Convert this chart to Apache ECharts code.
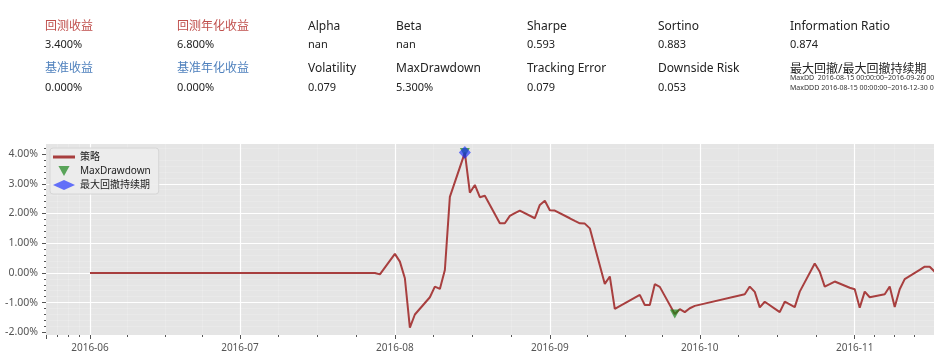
<!DOCTYPE html>
<html>
<head>
<meta charset="utf-8">
<script src="https://cdn.jsdelivr.net/npm/echarts@6/dist/echarts.min.js"></script>
<style>
html,body{margin:0;padding:0;background:#fff;}
#chart{width:934px;height:359px;}
</style>
</head>
<body>
<div id="chart"></div>
<script>
// ---------- data ----------
const dates = ['2016-06-01','2016-07-28','2016-07-29','2016-08-01','2016-08-02','2016-08-03','2016-08-04','2016-08-05',
  '2016-08-08','2016-08-09','2016-08-10','2016-08-11','2016-08-12','2016-08-15','2016-08-16','2016-08-17','2016-08-18',
  '2016-08-19','2016-08-22','2016-08-23','2016-08-24','2016-08-25','2016-08-26','2016-08-29','2016-08-30','2016-08-31',
  '2016-09-01','2016-09-02','2016-09-05','2016-09-06','2016-09-07','2016-09-08','2016-09-09','2016-09-12','2016-09-13',
  '2016-09-14','2016-09-19','2016-09-20','2016-09-21','2016-09-22','2016-09-23','2016-09-26','2016-09-27','2016-09-28',
  '2016-09-29','2016-09-30','2016-10-10','2016-10-11','2016-10-12','2016-10-13','2016-10-14','2016-10-17','2016-10-18',
  '2016-10-19','2016-10-20','2016-10-21','2016-10-24','2016-10-25','2016-10-26','2016-10-27','2016-10-28','2016-10-31',
  '2016-11-01','2016-11-02','2016-11-03','2016-11-04','2016-11-07','2016-11-08','2016-11-09','2016-11-10','2016-11-11',
  '2016-11-14','2016-11-15','2016-11-16','2016-11-17'];
const strategy = [0,0,-0.05,0.64,0.38,-0.18,-1.84,-1.40,
  -0.82,-0.46,-0.54,0.10,2.56,4.05,2.70,2.96,2.55,
  2.60,1.67,1.67,1.92,2.01,2.10,1.84,2.29,2.43,
  2.11,2.10,1.84,1.75,1.67,1.66,1.50,-0.37,-0.12,
  -1.21,-0.74,-1.08,-1.08,-0.38,-0.47,-1.38,-1.22,-1.32,
  -1.19,-1.11,-0.72,-0.46,-0.64,-1.16,-0.97,-1.32,-0.97,
  -1.06,-1.15,-0.63,0.32,0.04,-0.46,-0.38,-0.29,-0.50,
  -0.55,-1.17,-0.63,-0.82,-0.72,-0.46,-1.15,-0.55,-0.21,
  0.10,0.21,0.21,0.04];
const maxDrawdownDates = ['2016-08-15','2016-09-26'];
const maxDrawdownValues = [4.05,-1.38];
const maxDDDDates = ['2016-08-15'];
const maxDDDValues = [4.05];

const yTicks = [-2,-1,0,1,2,3,4];

const row1Labels = ['回测收益','回测年化收益','Alpha','Beta','Sharpe','Sortino','Information Ratio'];
const row1Values = ['3.400%','6.800%','nan','nan','0.593','0.883','0.874'];
const row2Labels = ['基准收益','基准年化收益','Volatility','MaxDrawdown','Tracking Error','Downside Risk','最大回撤/最大回撤持续期'];
const row2Values = ['0.000%','0.000%','0.079','5.300%','0.079','0.053'];
const ddLines = ['MaxDD  2016-08-15 00:00:00~2016-09-26 00:00:00','MaxDDD 2016-08-15 00:00:00~2016-12-30 00:00:00'];

// ---------- layout ----------
const colX = [45,177,308,396,527,658,790];
const FONT = '"Noto Sans","Noto Sans CJK SC",sans-serif';
const RED = '#c0504d', BLUE = '#4f81bd', DARK = '#222';

const graphics = [];
function txt(x, y, s, color, size) {
  graphics.push({type:'text', left:x, top:y, silent:true,
    style:{text:s, fill:color, font: size + 'px ' + FONT}});
}
row1Labels.forEach((s,i)=>txt(colX[i], 21, s, i<2?RED:DARK, 12));
row1Values.forEach((s,i)=>txt(colX[i], 39, s, DARK, 11));
row2Labels.forEach((s,i)=>txt(colX[i], i===6?64:63, s, i<2?BLUE:DARK, 12));
row2Values.forEach((s,i)=>txt(colX[i], 82, s, DARK, 11));
txt(colX[6], 75, ddLines[0], '#333', 7);
txt(colX[6], 85, ddLines[1], '#333', 7);

const parseT = s => +echarts.time.parse(s);
const xMin = parseT('2016-06-01') - 8.8*86400000;
const xMax = parseT('2016-11-01') + 15.86*86400000;

const chart = echarts.init(document.getElementById('chart'), null, {renderer:'canvas'});
chart.setOption({
  animation:false,
  backgroundColor:'#ffffff',
  textStyle:{fontFamily:FONT},
  graphic: graphics,
  grid:{left:46, right:0, top:144, bottom:24, show:true, backgroundColor:'#e5e5e5', borderWidth:0},
  legend:{
    orient:'vertical', left:50, top:148, itemWidth:22, itemHeight:10, itemGap:4,
    padding:[4,8,4,3], backgroundColor:'rgba(236,236,236,0.9)', borderColor:'#d6d6d6', borderWidth:1, borderRadius:3,
    textStyle:{fontSize:10, color:'#222', fontFamily:FONT},
    data:[
      {name:'策略', icon:'path://M0,0 L0.01,0 L0.01,0.01 Z M0,3.6 L22,3.6 L22,6.4 L0,6.4 Z M21.99,9.99 L22,10 L21.99,10 Z'},
      {name:'MaxDrawdown'},
      {name:'最大回撤持续期'}
    ]
  },
  xAxis:{
    type:'time', min:xMin, max:xMax, splitNumber:6,
    axisLine:{show:false, onZero:false},
    axisTick:{show:true, length:4, lineStyle:{color:'#555'}},
    minorTick:{show:true, splitNumber:4, length:2, lineStyle:{color:'#555'}},
    axisLabel:{color:'#555', fontSize:10, margin:8,
      formatter: v => echarts.time.format(v, '{yyyy}-{MM}', false)},
    splitLine:{show:true, showMinLine:false, showMaxLine:false, lineStyle:{color:'#ffffff', width:1.2}},
    minorSplitLine:{show:true, lineStyle:{color:'rgba(255,255,255,0.3)', width:0.6}}
  },
  yAxis:{
    type:'value', min:-2.09, max:4.34,
    axisLine:{show:false},
    axisTick:{show:true, length:4, lineStyle:{color:'#555'}, customValues: yTicks},
    minorTick:{show:true, splitNumber:5, length:2, lineStyle:{color:'#555'}},
    axisLabel:{color:'#555', fontSize:10.5, margin:8, customValues: yTicks,
      formatter: v => v.toFixed(2) + '%'},
    splitLine:{show:true, showMinLine:false, showMaxLine:false, lineStyle:{color:'#ffffff', width:1.2}},
    minorSplitLine:{show:true, lineStyle:{color:'rgba(255,255,255,0.3)', width:0.6}}
  },
  series:[
    {name:'策略', type:'line', symbol:'none', clip:true, z:2,
      lineStyle:{color:'#a83f3f', width:2}, itemStyle:{color:'#a83f3f'},
      data: dates.map((d,i)=>[d, strategy[i]])},
    {name:'MaxDrawdown', type:'scatter', z:3,
      symbol:'path://M0,0 L10,0 L5,9 Z', symbolSize:[10,9],
      itemStyle:{color:'rgba(20,130,20,0.85)'},
      data: maxDrawdownDates.map((d,i)=>[d, maxDrawdownValues[i]])},
    {name:'最大回撤持续期', type:'scatter', z:4,
      symbol:'diamond', symbolSize:[12,13],
      itemStyle:{color:'rgba(20,40,255,0.8)'},
      data: maxDDDDates.map((d,i)=>[d, maxDDDValues[i]])}
  ]
});
</script>
</body>
</html>
